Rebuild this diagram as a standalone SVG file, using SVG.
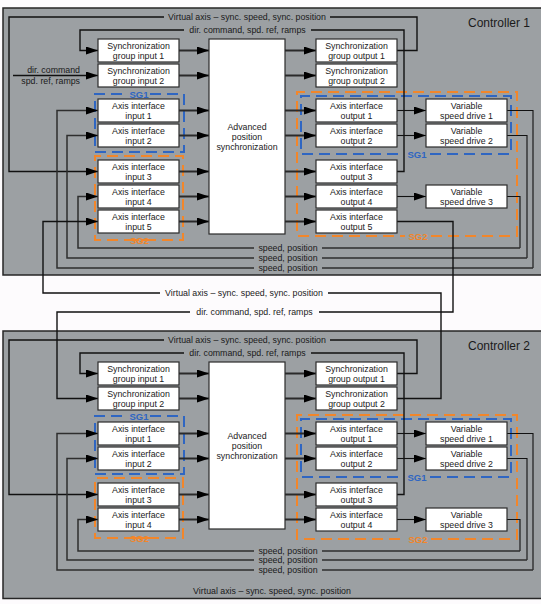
<svg xmlns="http://www.w3.org/2000/svg" width="541" height="604" viewBox="0 0 541 604">
<style>
text{font-family:"Liberation Sans",Arial,sans-serif;font-size:8.8px;fill:#1a1a1a}
.c{text-anchor:middle}
.r{text-anchor:end}
.panel{fill:#9ca0a3;stroke:#262626;stroke-width:1.5}
.box{fill:#ffffff;stroke:#2b2b2b;stroke-width:1.2}
.ln{fill:none;stroke:#111;stroke-width:1.4}
.thin{fill:none;stroke:#111;stroke-width:1.1}
.th{fill:none;stroke:#2a2a2a;stroke-width:2}
.sp{fill:none;stroke:#2e2e2e;stroke-width:1.5}
.sg1{fill:none;stroke:#2f66c2;stroke-width:2;stroke-dasharray:11,6}
.sg2{fill:none;stroke:#f2862a;stroke-width:2;stroke-dasharray:11,6}
.l1{fill:#2f66c2;font-weight:bold;font-size:9.5px;text-anchor:middle}
.l2{fill:#f2862a;font-weight:bold;font-size:9.5px;text-anchor:middle}
.ctl{font-size:12px}
</style>
<defs>
<marker id="ah" markerUnits="userSpaceOnUse" markerWidth="12" markerHeight="8" refX="12" refY="4" orient="auto">
<path d="M0,0 L12,4 L0,8 z" fill="#000"/>
</marker>
</defs>
<rect width="541" height="604" fill="#fdfbfd"/>

<g id="panels">
<rect id="controller1" class="panel" x="3" y="8" width="545" height="267"/>
<rect id="controller2" class="panel" x="3" y="331" width="545" height="267.5"/>
<text class="ctl" x="468" y="27">Controller 1</text>
<text class="ctl" x="468" y="350">Controller 2</text>
</g>

<g id="groups">
<!-- C1 left SG1 -->
<path class="sg1" d="M150,94 H184 V152 H95 V94 H127"/>
<text class="l1" x="139" y="97.5">SG1</text>
<path class="sg2" d="M152,240 H95 V156 H183 V240 H127"/>
<text class="l2" x="139.5" y="243.5">SG2</text>
<path class="sg2" d="M431,236 H517 V92 H297 V236 H405"/>
<text class="l2" x="418" y="239.5">SG2</text>
<path class="sg1" d="M430,154 H511 V96 H301 V154 H404"/>
<text class="l1" x="417" y="157.5">SG1</text>
<!-- C2 -->
<path class="sg1" d="M150,416 H184 V474 H95 V416 H127"/>
<text class="l1" x="139" y="419.5">SG1</text>
<path class="sg2" d="M152,538 H95 V478 H183 V538 H127"/>
<text class="l2" x="139.5" y="541.5">SG2</text>
<path class="sg2" d="M431,539 H517 V415 H297 V539 H405"/>
<text class="l2" x="418" y="542.5">SG2</text>
<path class="sg1" d="M430,477 H511 V419 H301 V477 H404"/>
<text class="l1" x="417" y="480.5">SG1</text>
</g>

<g id="connectors">
<!-- C1 inputs to adv -->
<path class="th" marker-end="url(#ah)" d="M179,50.5 H209"/>
<path class="th" marker-end="url(#ah)" d="M179,75.5 H209"/>
<path class="th" marker-end="url(#ah)" d="M179,110.5 H209"/>
<path class="th" marker-end="url(#ah)" d="M179,135.5 H209"/>
<path class="th" marker-end="url(#ah)" d="M179,171.5 H209"/>
<path class="th" marker-end="url(#ah)" d="M179,196.5 H209"/>
<path class="th" marker-end="url(#ah)" d="M179,221.5 H209"/>
<!-- C1 adv to outputs -->
<path class="th" marker-end="url(#ah)" d="M285,50.5 H316"/>
<path class="th" marker-end="url(#ah)" d="M285,75.5 H316"/>
<path class="th" marker-end="url(#ah)" d="M285,110.5 H316"/>
<path class="th" marker-end="url(#ah)" d="M285,135.5 H316"/>
<path class="th" marker-end="url(#ah)" d="M285,171.5 H316"/>
<path class="th" marker-end="url(#ah)" d="M285,196.5 H316"/>
<path class="th" marker-end="url(#ah)" d="M285,221.5 H316"/>
<!-- C1 outputs to VSD -->
<path class="thin" marker-end="url(#ah)" d="M397,110.5 H426"/>
<path class="thin" marker-end="url(#ah)" d="M397,135.5 H426"/>
<path class="thin" marker-end="url(#ah)" d="M397,196.5 H426"/>
<!-- C1 virtual axis loop -->
<path class="ln" d="M397,50.5 H417 V17 H330"/>
<path class="ln" marker-end="url(#ah)" d="M164,17 H9 V171.5 H98"/>
<text class="c" x="247" y="20">Virtual axis – sync. speed, sync. position</text>
<!-- C1 dir loop -->
<path class="ln" d="M397,171.5 H404 V30 H311"/>
<path class="ln" marker-end="url(#ah)" d="M184,30 H80 V50.5 H98"/>
<text class="c" x="247.5" y="33">dir. command, spd. ref, ramps</text>
<!-- C1 external dir input -->
<path class="ln" marker-end="url(#ah)" d="M13,75.5 H98"/>
<text class="r" x="80" y="72.5">dir. command</text>
<text class="r" x="80" y="83.5">spd. ref, ramps</text>
<!-- C1 speed feedback -->
<path class="thin" d="M507,110.5 H533 V268"/>
<path class="thin" d="M507,135.5 H527 V258"/>
<path class="thin" d="M507,196.5 H520 V248"/>
<path class="sp" d="M520,248 H322"/>
<path class="sp" d="M527,258 H322"/>
<path class="sp" d="M533,268 H322"/>
<path class="sp" marker-end="url(#ah)" d="M254,248 H78 V196.5 H98"/>
<path class="sp" marker-end="url(#ah)" d="M254,258 H67 V135.5 H98"/>
<path class="sp" marker-end="url(#ah)" d="M254,268 H57 V110.5 H98"/>
<text class="c" x="288" y="251">speed, position</text>
<text class="c" x="288" y="261">speed, position</text>
<text class="c" x="288" y="271">speed, position</text>
<!-- between controllers -->
<path class="ln" d="M397,221.5 H453 V312 H319"/>
<path class="ln" marker-end="url(#ah)" d="M190,312 H57 V398.5 H98"/>
<text class="c" x="254.5" y="315">dir. command, spd. ref, ramps</text>
<path class="ln" d="M397,398.5 H441 V293 H328"/>
<path class="ln" marker-end="url(#ah)" d="M160,293 H43 V221.5 H98"/>
<text class="c" x="244" y="296">Virtual axis – sync. speed, sync. position</text>
<!-- C2 inputs to adv -->
<path class="th" marker-end="url(#ah)" d="M179,373.5 H209"/>
<path class="th" marker-end="url(#ah)" d="M179,398.5 H209"/>
<path class="th" marker-end="url(#ah)" d="M179,433.5 H209"/>
<path class="th" marker-end="url(#ah)" d="M179,458.5 H209"/>
<path class="th" marker-end="url(#ah)" d="M179,494.5 H209"/>
<path class="th" marker-end="url(#ah)" d="M179,519.5 H209"/>
<!-- C2 adv to outputs -->
<path class="th" marker-end="url(#ah)" d="M285,373.5 H316"/>
<path class="th" marker-end="url(#ah)" d="M285,398.5 H316"/>
<path class="th" marker-end="url(#ah)" d="M285,433.5 H316"/>
<path class="th" marker-end="url(#ah)" d="M285,458.5 H316"/>
<path class="th" marker-end="url(#ah)" d="M285,494.5 H316"/>
<path class="th" marker-end="url(#ah)" d="M285,519.5 H316"/>
<!-- C2 outputs to VSD -->
<path class="thin" marker-end="url(#ah)" d="M397,433.5 H426"/>
<path class="thin" marker-end="url(#ah)" d="M397,458.5 H426"/>
<path class="thin" marker-end="url(#ah)" d="M397,519.5 H426"/>
<!-- C2 virtual loop -->
<path class="ln" d="M397,373.5 H417 V340 H330"/>
<path class="ln" marker-end="url(#ah)" d="M164,340 H9 V494.5 H98"/>
<text class="c" x="247" y="343">Virtual axis – sync. speed, sync. position</text>
<!-- C2 dir loop -->
<path class="ln" d="M397,494.5 H404 V353 H311"/>
<path class="ln" marker-end="url(#ah)" d="M184,353 H80 V373.5 H98"/>
<text class="c" x="247.5" y="356">dir. command, spd. ref, ramps</text>
<!-- C2 speed feedback -->
<path class="thin" d="M507,433.5 H533 V570"/>
<path class="thin" d="M507,458.5 H527 V560"/>
<path class="thin" d="M507,519.5 H520 V551"/>
<path class="sp" d="M520,551 H322"/>
<path class="sp" d="M527,560 H322"/>
<path class="sp" d="M533,570 H322"/>
<path class="sp" marker-end="url(#ah)" d="M254,551 H78 V519.5 H98"/>
<path class="sp" marker-end="url(#ah)" d="M254,560 H67 V458.5 H98"/>
<path class="sp" marker-end="url(#ah)" d="M254,570 H57 V433.5 H98"/>
<text class="c" x="288" y="554">speed, position</text>
<text class="c" x="288" y="563">speed, position</text>
<text class="c" x="288" y="573">speed, position</text>
<text class="c" x="272" y="594">Virtual axis – sync. speed, sync. position</text>
</g>

<g id="c1-sync-in1"><rect class="box" x="98" y="39" width="81" height="23"/><text class="c" x="138.5" y="48.5">Synchronization</text><text class="c" x="138.5" y="58.5">group input 1</text></g>
<g id="c1-sync-in2"><rect class="box" x="98" y="64" width="81" height="23"/><text class="c" x="138.5" y="73.5">Synchronization</text><text class="c" x="138.5" y="83.5">group input 2</text></g>
<g id="c1-axis-in1"><rect class="box" x="98" y="99" width="81" height="23"/><text class="c" x="138.5" y="108.5">Axis interface</text><text class="c" x="138.5" y="118.5">input 1</text></g>
<g id="c1-axis-in2"><rect class="box" x="98" y="124" width="81" height="23"/><text class="c" x="138.5" y="133.5">Axis interface</text><text class="c" x="138.5" y="143.5">input 2</text></g>
<g id="c1-axis-in3"><rect class="box" x="98" y="160" width="81" height="23"/><text class="c" x="138.5" y="169.5">Axis interface</text><text class="c" x="138.5" y="179.5">input 3</text></g>
<g id="c1-axis-in4"><rect class="box" x="98" y="185" width="81" height="23"/><text class="c" x="138.5" y="194.5">Axis interface</text><text class="c" x="138.5" y="204.5">input 4</text></g>
<g id="c1-axis-in5"><rect class="box" x="98" y="210" width="81" height="23"/><text class="c" x="138.5" y="219.5">Axis interface</text><text class="c" x="138.5" y="229.5">input 5</text></g>
<g id="c1-adv"><rect class="box" x="209" y="39" width="76" height="195"/><text class="c" x="247" y="130">Advanced</text><text class="c" x="247" y="140">position</text><text class="c" x="247" y="150">synchronization</text></g>
<g id="c1-sync-out1"><rect class="box" x="316" y="39" width="81" height="23"/><text class="c" x="356.5" y="48.5">Synchronization</text><text class="c" x="356.5" y="58.5">group output 1</text></g>
<g id="c1-sync-out2"><rect class="box" x="316" y="64" width="81" height="23"/><text class="c" x="356.5" y="73.5">Synchronization</text><text class="c" x="356.5" y="83.5">group output 2</text></g>
<g id="c1-axis-out1"><rect class="box" x="316" y="99" width="81" height="23"/><text class="c" x="356.5" y="108.5">Axis interface</text><text class="c" x="356.5" y="118.5">output 1</text></g>
<g id="c1-axis-out2"><rect class="box" x="316" y="124" width="81" height="23"/><text class="c" x="356.5" y="133.5">Axis interface</text><text class="c" x="356.5" y="143.5">output 2</text></g>
<g id="c1-axis-out3"><rect class="box" x="316" y="160" width="81" height="23"/><text class="c" x="356.5" y="169.5">Axis interface</text><text class="c" x="356.5" y="179.5">output 3</text></g>
<g id="c1-axis-out4"><rect class="box" x="316" y="185" width="81" height="23"/><text class="c" x="356.5" y="194.5">Axis interface</text><text class="c" x="356.5" y="204.5">output 4</text></g>
<g id="c1-axis-out5"><rect class="box" x="316" y="210" width="81" height="23"/><text class="c" x="356.5" y="219.5">Axis interface</text><text class="c" x="356.5" y="229.5">output 5</text></g>
<g id="c1-vsd1"><rect class="box" x="426" y="99" width="81" height="23"/><text class="c" x="466.5" y="108.5">Variable</text><text class="c" x="466.5" y="118.5">speed drive 1</text></g>
<g id="c1-vsd2"><rect class="box" x="426" y="124" width="81" height="23"/><text class="c" x="466.5" y="133.5">Variable</text><text class="c" x="466.5" y="143.5">speed drive 2</text></g>
<g id="c1-vsd3"><rect class="box" x="426" y="185" width="81" height="23"/><text class="c" x="466.5" y="194.5">Variable</text><text class="c" x="466.5" y="204.5">speed drive 3</text></g>

<g id="c2-sync-in1"><rect class="box" x="98" y="362" width="81" height="23"/><text class="c" x="138.5" y="371.5">Synchronization</text><text class="c" x="138.5" y="381.5">group input 1</text></g>
<g id="c2-sync-in2"><rect class="box" x="98" y="387" width="81" height="23"/><text class="c" x="138.5" y="396.5">Synchronization</text><text class="c" x="138.5" y="406.5">group input 2</text></g>
<g id="c2-axis-in1"><rect class="box" x="98" y="422" width="81" height="23"/><text class="c" x="138.5" y="431.5">Axis interface</text><text class="c" x="138.5" y="441.5">input 1</text></g>
<g id="c2-axis-in2"><rect class="box" x="98" y="447" width="81" height="23"/><text class="c" x="138.5" y="456.5">Axis interface</text><text class="c" x="138.5" y="466.5">input 2</text></g>
<g id="c2-axis-in3"><rect class="box" x="98" y="483" width="81" height="23"/><text class="c" x="138.5" y="492.5">Axis interface</text><text class="c" x="138.5" y="502.5">input 3</text></g>
<g id="c2-axis-in4"><rect class="box" x="98" y="508" width="81" height="23"/><text class="c" x="138.5" y="517.5">Axis interface</text><text class="c" x="138.5" y="527.5">input 4</text></g>
<g id="c2-adv"><rect class="box" x="209" y="362" width="76" height="167"/><text class="c" x="247" y="439">Advanced</text><text class="c" x="247" y="449">position</text><text class="c" x="247" y="459">synchronization</text></g>
<g id="c2-sync-out1"><rect class="box" x="316" y="362" width="81" height="23"/><text class="c" x="356.5" y="371.5">Synchronization</text><text class="c" x="356.5" y="381.5">group output 1</text></g>
<g id="c2-sync-out2"><rect class="box" x="316" y="387" width="81" height="23"/><text class="c" x="356.5" y="396.5">Synchronization</text><text class="c" x="356.5" y="406.5">group output 2</text></g>
<g id="c2-axis-out1"><rect class="box" x="316" y="422" width="81" height="23"/><text class="c" x="356.5" y="431.5">Axis interface</text><text class="c" x="356.5" y="441.5">output 1</text></g>
<g id="c2-axis-out2"><rect class="box" x="316" y="447" width="81" height="23"/><text class="c" x="356.5" y="456.5">Axis interface</text><text class="c" x="356.5" y="466.5">output 2</text></g>
<g id="c2-axis-out3"><rect class="box" x="316" y="483" width="81" height="23"/><text class="c" x="356.5" y="492.5">Axis interface</text><text class="c" x="356.5" y="502.5">output 3</text></g>
<g id="c2-axis-out4"><rect class="box" x="316" y="508" width="81" height="23"/><text class="c" x="356.5" y="517.5">Axis interface</text><text class="c" x="356.5" y="527.5">output 4</text></g>
<g id="c2-vsd1"><rect class="box" x="426" y="422" width="81" height="23"/><text class="c" x="466.5" y="431.5">Variable</text><text class="c" x="466.5" y="441.5">speed drive 1</text></g>
<g id="c2-vsd2"><rect class="box" x="426" y="447" width="81" height="23"/><text class="c" x="466.5" y="456.5">Variable</text><text class="c" x="466.5" y="466.5">speed drive 2</text></g>
<g id="c2-vsd3"><rect class="box" x="426" y="508" width="81" height="23"/><text class="c" x="466.5" y="517.5">Variable</text><text class="c" x="466.5" y="527.5">speed drive 3</text></g>
</svg>
